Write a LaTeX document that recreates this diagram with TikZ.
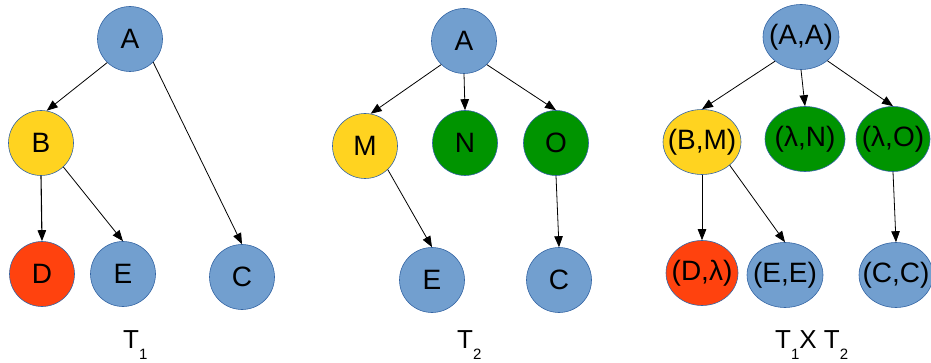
\documentclass[tikz,border=0pt]{standalone}
\usepackage{fontspec}
\setmainfont{Liberation Sans}
\usetikzlibrary{arrows.meta,shapes.geometric}
\definecolor{nblue}{HTML}{729FCF}
\definecolor{nborder}{HTML}{3465A4}
\definecolor{nyellow}{HTML}{FFD320}
\definecolor{ngreen}{HTML}{009400}
\definecolor{nred}{HTML}{FF420E}
\newcommand{\lowsub}[1]{\raisebox{-11pt}{\fontsize{15}{15}\selectfont #1}}
\newcommand{\pairtext}[1]{\makebox[0pt]{#1}}
\tikzset{
  tnode/.style={circle, draw=nborder, line width=0.6pt, minimum size=65pt, inner sep=0pt,
    font=\fontsize{28}{32}\selectfont},
  pnode/.style={ellipse, draw=nborder, line width=0.6pt, minimum height=65pt, inner sep=0pt,
    font=\fontsize{28}{32}\selectfont},
  blue/.style={fill=nblue},
  yel/.style={fill=nyellow},
  grn/.style={fill=ngreen},
  red/.style={fill=nred},
  edge/.style={draw=black, line width=0.8pt, -{Triangle[length=11pt,width=8.5pt]}},
  lbl/.style={anchor=base west, inner sep=0pt, font=\fontsize{26}{30}\selectfont}
}
\begin{document}
\begin{tikzpicture}[x=1pt,y=-1pt]
\useasboundingbox (0,0) rectangle (931,363);
% Tree 1
\node[tnode,blue] (a1) at (130,39) {A};
\node[tnode,yel]  (b1) at (41,143) {B};
\node[tnode,red]  (d1) at (42,274) {D};
\node[tnode,blue] (e1) at (123,274) {E};
\node[tnode,blue] (c1) at (242,277) {C};
\draw[edge] (a1.226) -- (b1.80);
\draw[edge] (a1.315) -- (c1.north);
\draw[edge, line width=1.1pt] (b1.south) -- (d1.north);
\draw[edge] (b1.313) -- (e1.north);
\node[lbl] (t1) at (123,348) {T\lowsub{1}};
% Tree 2
\node[tnode,blue] (a2) at (464,41) {A};
\node[tnode,yel]  (m2) at (365,146) {M};
\node[tnode,grn]  (n2) at (465,143) {N};
\node[tnode,grn]  (o2) at (556,143) {O};
\node[tnode,blue] (e2) at (432,280) {E};
\node[tnode,blue] (c2) at (559,280) {C};
\draw[edge] (a2.226) -- (m2.80);
\draw[edge] (a2.south) -- (n2.north);
\draw[edge] (a2.314) -- (o2.north);
\draw[edge] (m2.314) -- (e2.north);
\draw[edge] (o2.south) -- (c2.north);
\node[lbl] (t2) at (457,348) {T\lowsub{2}};
% Tree 3
\node[pnode,blue,minimum width=76pt] (aa) at (801,37) {\pairtext{(A,A)}};
\node[pnode,yel, minimum width=78pt] (bm) at (702,142) {\pairtext{(B,M)}};
\node[pnode,grn, minimum width=80pt] (ln) at (805,139) {\pairtext{(λ,N)}};
\node[pnode,grn, minimum width=74pt] (lo) at (893,139) {\pairtext{(λ,O)}};
\node[pnode,red, minimum width=72pt] (dl) at (702,273) {\pairtext{(D,λ)}};
\node[pnode,blue,minimum width=76pt] (ee) at (785,275) {\pairtext{(E,E)}};
\node[pnode,blue,minimum width=74pt] (cc) at (896,275) {\pairtext{(C,C)}};
\draw[edge] (aa.223) -- (bm.north);
\draw[edge] (aa.south) -- (ln.north);
\draw[edge] (aa.318) -- (lo.north);
\draw[edge] (bm.south) -- (dl.north);
\draw[edge] (bm.320) -- (ee.north);
\draw[edge] (lo.south) -- (cc.north);
\node[lbl] (t3) at (775,348) {T\lowsub{1}X T\lowsub{2}};
\end{tikzpicture}
\end{document}
